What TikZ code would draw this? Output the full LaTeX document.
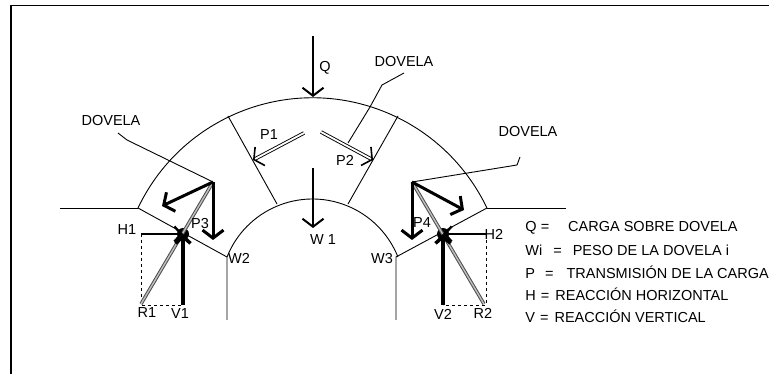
\documentclass[tikz,border=0pt]{standalone}
\usepackage{fontspec}
\setmainfont{Liberation Sans}
\usetikzlibrary{arrows.meta}
\begin{document}
\begin{tikzpicture}[x=1pt,y=1pt,line join=bevel,line width=0.9pt,
    >={Straight Barb[length=8pt,width=21pt]}]
  \tikzstyle{lbl}=[inner sep=0pt,font=\fontsize{14.5}{16}\selectfont]
  \tikzstyle{legend}=[lbl,anchor=west]
  \tikzstyle{load}=[->,line width=2pt]
  \tikzstyle{weight}=[->,line width=3pt]
  \tikzstyle{reaction}=[-{Straight Barb[length=7pt,width=15pt]},line width=2.4pt]
  \tikzstyle{blob}=[circle,fill=black,inner sep=0pt,minimum size=12pt]
  \tikzstyle{thrust}=[-{Straight Barb[length=7pt,width=21pt,line width=1.6pt]},draw=black,double=white,line width=0.9pt,double distance=1.8pt]
  \tikzstyle{result}=[draw=black!70,double=black!25,line width=1pt,double distance=1.4pt]
  \useasboundingbox (0,-374) rectangle (769,0);
  \draw[line width=1.6pt] (769,-5.5) -- (11,-5.5) -- (11,-374);
  % voussoir outline
  \coordinate (ext_L) at (138,-208);
  \coordinate (ext_R) at (487,-208);
  \coordinate (int_L) at (227,-257);
  \coordinate (int_R) at (396,-257);
  \draw (ext_L) arc[start angle=154.56,end angle=25.44,radius=193.2];
  \draw (int_L) arc[start angle=158.3,end angle=21.7,radius=92];
  \draw (ext_L) -- (int_L) -- (227,-320);
  \draw (ext_R) -- (int_R) -- (396,-320);
  \draw (60,-208) -- (ext_L);
  \draw (566,-208) -- (ext_R);
  \draw (228,-116) -- (277,-204);
  \draw (398,-116) -- (348,-204);
  % top load and weight
  \coordinate (Q_a) at (313,-36);
  \coordinate (Q_b) at (313,-97);
  \coordinate (W_a) at (313,-168);
  \coordinate (W_b) at (313,-228);
  \draw[load] (Q_a) -- (Q_b);
  \draw[load] (W_a) -- (W_b);
  \node[lbl] (Q) at (325,-68) {Q};
  \node[lbl] (W1) at (323,-240) {W 1};
  % thrust between voussoirs
  \coordinate (P1_a) at (304,-133);
  \coordinate (P1_b) at (253,-160);
  \coordinate (P2_a) at (321,-132);
  \coordinate (P2_b) at (373,-160);
  \draw[thrust] (P1_a) -- (P1_b);
  \draw[thrust] (P2_a) -- (P2_b);
  \node[lbl] (P1) at (269,-135) {P1};
  \node[lbl] (P2) at (345,-160) {P2};
  % left springing
  \coordinate (apex_L) at (213,-182);
  \node[blob] (star_L) at (183,-234) {};
  \coordinate (R1_c) at (141,-304);
  \coordinate (H1_c) at (141,-234);
  \coordinate (V1_c) at (183,-305);
  \draw[dashed] (H1_c) -- (141,-305) -- (V1_c);
  \draw[result] (apex_L) -- (R1_c);
  \draw[weight] (apex_L) -- (213,-240);
  \draw[weight] (apex_L) -- (162,-206);
  \draw[reaction] (H1_c) -- (star_L.center);
  \draw[reaction,line width=3.5pt] (V1_c) -- (star_L.center);
  \node[lbl] (H1) at (127,-230) {H1};
  \node[lbl] (P3) at (200,-224) {P3};
  \node[lbl] (W2) at (239,-258) {W2};
  \node[lbl] (R1) at (147,-313) {R1};
  \node[lbl] (V1) at (180,-314) {V1};
  % right springing
  \coordinate (apex_R) at (412,-182);
  \node[blob] (star_R) at (443,-234) {};
  \coordinate (R2_c) at (484,-304);
  \coordinate (H2_c) at (486,-234);
  \coordinate (V2_c) at (443,-305);
  \draw[dashed] (H2_c) -- (486,-305) -- (V2_c);
  \draw[result] (apex_R) -- (R2_c);
  \draw[weight] (apex_R) -- (412,-240);
  \draw[weight] (apex_R) -- (464,-210);
  \draw[reaction] (H2_c) -- (star_R.center);
  \draw[reaction,line width=3.5pt] (V2_c) -- (star_R.center);
  \node[lbl] (H2) at (494,-234) {H2};
  \node[lbl] (P4) at (422,-223) {P4};
  \node[lbl] (W3) at (382,-259) {W3};
  \node[lbl] (V2) at (443,-314) {V2};
  \node[lbl] (R2) at (483,-313) {R2};
  % leaders
  \node[lbl] (dov_L) at (111,-121) {DOVELA};
  \node[lbl] (dov_T) at (404,-62) {DOVELA};
  \node[lbl] (dov_R) at (528,-132) {DOVELA};
  \draw (118,-133) -- (127,-140) -- (apex_L);
  \draw (404,-73) -- (382,-85) -- (370,-107) -- (348,-143);
  \draw (520,-157) -- (517,-165) -- (apex_R);
  % legend
  \node[legend] (leg_Q) at (525,-228) {Q =\hspace{19pt}CARGA SOBRE DOVELA};
  \node[legend] (leg_W) at (525,-250) {Wi\hspace{11pt}=\hspace{11pt}PESO DE LA DOVELA i};
  \node[legend] (leg_P) at (525,-272) {P\hspace{10pt}=\hspace{13pt}TRANSMISIÓN DE LA CARGA};
  \node[legend] (leg_H) at (525,-294) {H\hspace{5pt}=\hspace{6pt}REACCIÓN HORIZONTAL};
  \node[legend] (leg_V) at (525,-316) {V\hspace{5pt}=\hspace{6pt}REACCIÓN VERTICAL};
\end{tikzpicture}
\end{document}
